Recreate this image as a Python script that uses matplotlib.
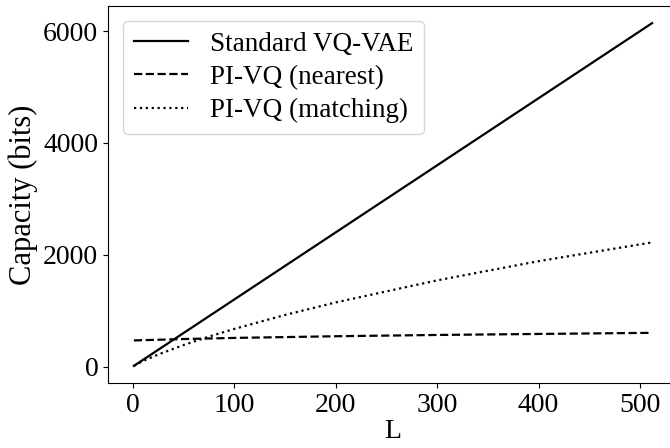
import matplotlib
matplotlib.use("Agg")
import matplotlib.pyplot as plt

# values
L_std = [1, 512]
cap_std = [12, 6144]

L_nearest = [1, 50, 100, 200, 300, 400, 512]
cap_nearest = [467, 492, 512, 542, 565, 583, 603]

L_matching = [1, 10, 25, 50, 75, 100, 150, 200, 300, 400, 512]
cap_matching = [12, 98, 216, 385, 536, 673, 923, 1147, 1542, 1885, 2221]

plt.rcParams['font.family'] = ['Liberation Serif', 'DejaVu Serif']
plt.rcParams['font.size'] = 20

fig = plt.figure(figsize=(6.7, 4.48), dpi=100)
ax = fig.add_axes([108 / 670, 65 / 448, 570 / 670, 377 / 448])

ax.plot(L_std, cap_std, color='black', linestyle='-', linewidth=1.6, label='Standard VQ-VAE')
ax.plot(L_nearest, cap_nearest, color='black', linestyle='--', linewidth=1.6, label='PI-VQ (nearest)')
ax.plot(L_matching, cap_matching, color='black', linestyle=':', linewidth=1.6, label='PI-VQ (matching)')

ax.set_xlabel('L', fontsize=20, labelpad=1)
ax.set_ylabel('Capacity (bits)', fontsize=22)
ax.set_xticks([0, 100, 200, 300, 400, 500])
ax.set_yticks([0, 2000, 4000, 6000])
ax.tick_params(labelsize=20)
ax.legend(loc='upper left', fontsize=19.5, borderaxespad=0.55, labelspacing=0.3)

fig.savefig('out.png', dpi=100)
